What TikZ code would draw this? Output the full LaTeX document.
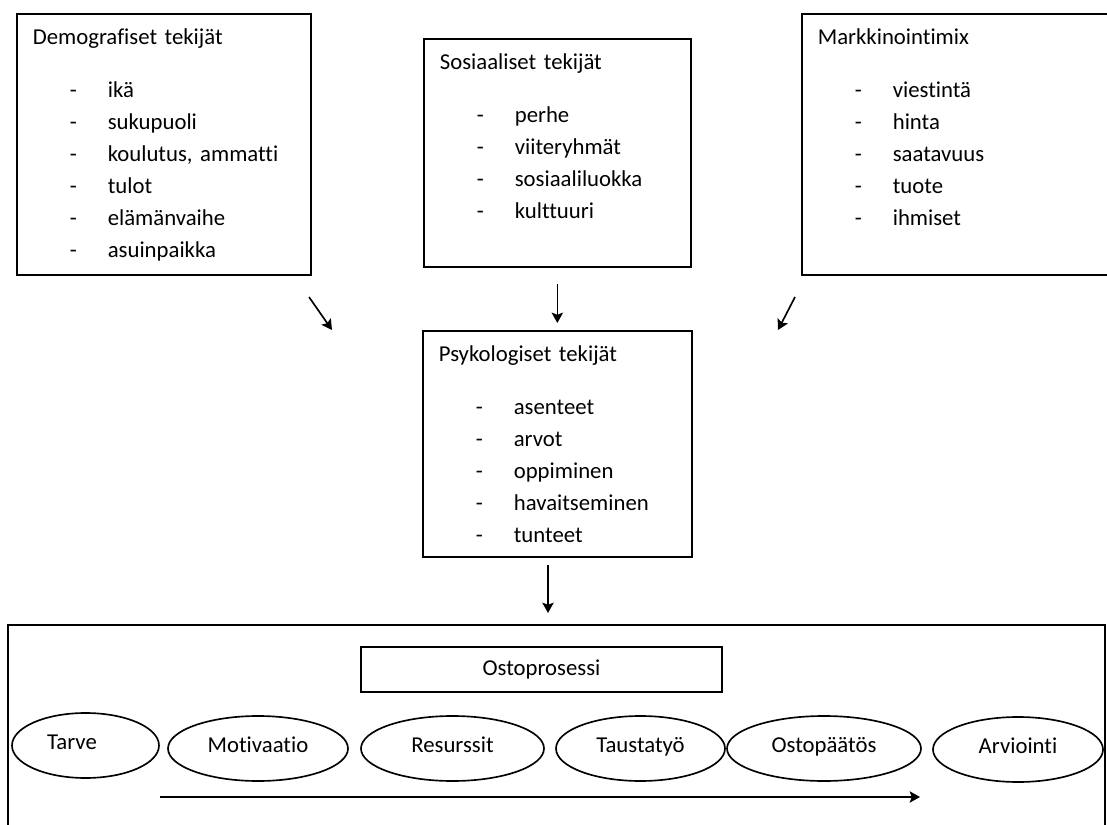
\documentclass[tikz,border=0pt]{standalone}
\usepackage{fontspec}
\setmainfont{Carlito}[Ligatures={NoCommon}]
\usepackage{tikz}
\usetikzlibrary{shapes.geometric, arrows.meta, positioning}
\newdimen\pxu
\pxu=0.017cm
\newcommand{\listrow}[1]{\hspace*{37\pxu}\makebox[38\pxu][l]{-}#1}
\tikzset{
    box/.style={rectangle, draw, thick, align=left, anchor=north west, inner xsep=16\pxu, inner ysep=0pt, text height=31\pxu},
    stage/.style={ellipse, draw, thick, inner sep=0pt, minimum height=65\pxu, text height=8\pxu, text depth=0pt},
    titlebox/.style={rectangle, draw, thick, minimum width=361\pxu, minimum height=45\pxu},
    flow/.style={->, thick, >={Stealth[length=5pt, width=5.5pt, inset=1pt]}}
}

\begin{document}
\begin{tikzpicture}[x=0.017cm, y=-0.017cm,
    font=\fontsize{11pt}{15.42pt}\selectfont,
    flow/.style={->, thick, >={Stealth[length=5pt, width=5.5pt, inset=1pt]}}
]
    \useasboundingbox (0,0) rectangle (1107,825);
    \clip (0,0) rectangle (1107,825);
    % Factor boxes
    \node[box, text width=262\pxu, text depth=230\pxu] (demographic) at (16,13) {Demografiset tekijät\\[10.1pt]
        \listrow{ikä}\\ \listrow{sukupuoli}\\ \listrow{koulutus, ammatti}\\ \listrow{tulot}\\ \listrow{elämänvaihe}\\ \listrow{asuinpaikka}};
    \node[box, text width=235\pxu, text depth=197\pxu] (social) at (423,38) {Sosiaaliset tekijät\\[10.1pt]
        \listrow{perhe}\\ \listrow{viiteryhmät}\\ \listrow{sosiaaliluokka}\\ \listrow{kulttuuri}};
    \node[box, text width=288\pxu, text depth=230\pxu] (marketing) at (801,13) {Markkinointimix\\[10.1pt]
        \listrow{viestintä}\\ \listrow{hinta}\\ \listrow{saatavuus}\\ \listrow{tuote}\\ \listrow{ihmiset}};
    \node[box, text width=237\pxu, text depth=195\pxu] (psychological) at (422,330) {Psykologiset tekijät\\[10.1pt]
        \listrow{asenteet}\\ \listrow{arvot}\\ \listrow{oppiminen}\\ \listrow{havaitseminen}\\ \listrow{tunteet}};
    % Purchase process
    \node[rectangle, draw, thick, anchor=north west, minimum width=1097\pxu, minimum height=215\pxu] (purchase_process) at (7,624) {};
    \node[titlebox] (process_title) at (541.5,669.5) {Ostoprosessi};
    \node[stage, minimum width=147\pxu] (need) at (85.5,745.5) {Tarve\hspace*{27\pxu}};
    \node[stage, minimum width=180\pxu] (motivation) at (258,748.5) {Motivaatio};
    \node[stage, minimum width=183\pxu] (resources) at (452.5,748.5) {Resurssit};
    \node[stage, minimum width=169\pxu] (research) at (640.5,748.5) {Taustatyö};
    \node[stage, minimum width=194\pxu] (decision) at (824,748.5) {Ostopäätös};
    \node[stage, minimum width=170\pxu] (evaluation) at (1018,749.5) {Arviointi};

    % Arrow ends
    \coordinate (demographic_tail) at (309,297);
    \coordinate (demographic_head) at (332,330);
    \coordinate (marketing_tail) at (795,297);
    \coordinate (marketing_head) at (778,330);
    \coordinate (psychological_out) at (548,565);
    \coordinate (process_in) at (548,613);
    \coordinate (stage_start) at (160,797);
    \coordinate (stage_end) at (920,797);

    % Flows
    \draw[flow] (demographic_tail) -- (demographic_head);
    \draw[flow, shorten <=16\pxu, shorten >=7\pxu] (social) -- (psychological);
    \draw[flow] (marketing_tail) -- (marketing_head);
    \draw[flow] (psychological_out) -- (process_in);
    \draw[flow] (stage_start) -- (stage_end);
\end{tikzpicture}
\end{document}
